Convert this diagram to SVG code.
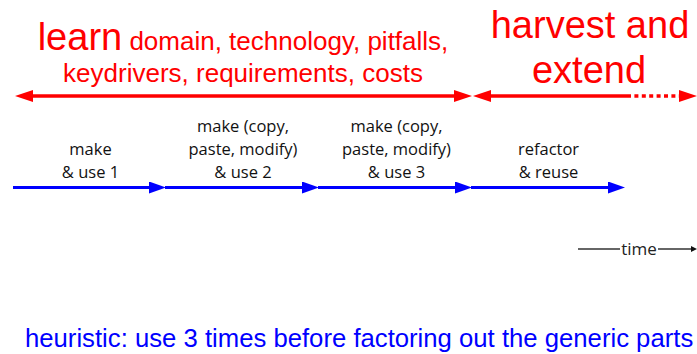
<svg xmlns="http://www.w3.org/2000/svg" width="697" height="354" viewBox="0 0 697 354">
<style>
.red{font-family:"Liberation Sans",Arial,sans-serif;fill:#ff0000}
.lbl{font-family:"Open Sans","Liberation Sans",sans-serif;font-size:16.5px;fill:#111;text-anchor:middle}
.rl{stroke:#ff0000;stroke-width:3.5;fill:none}
.bl{stroke:#0000ff;stroke-width:3;fill:none}
.tl{stroke:#333;stroke-width:1.3;fill:none}
</style>
<defs>
<marker id="ra" viewBox="0 0 18 12" refX="0" refY="6" markerWidth="18" markerHeight="12" markerUnits="userSpaceOnUse" orient="auto-start-reverse"><path d="M0,0 L18,6 L0,12 Z" fill="#ff0000"/></marker>
<marker id="ba" viewBox="0 0 17 12" refX="0" refY="6" markerWidth="17" markerHeight="12" markerUnits="userSpaceOnUse" orient="auto"><path d="M0,0 L17,6 L0,12 Z" fill="#0000ff"/></marker>
<marker id="ta" viewBox="0 0 6 6" refX="0" refY="3" markerWidth="6" markerHeight="6" markerUnits="userSpaceOnUse" orient="auto"><path d="M0,0 L6,3 L0,6 Z" fill="#111"/></marker>
</defs>
<g id="learn">
<text class="red" x="243" y="50" text-anchor="middle"><tspan font-size="38">learn</tspan><tspan font-size="26"> domain, technology, pitfalls,</tspan></text>
<text class="red" x="243" y="82" font-size="26" text-anchor="middle">keydrivers, requirements, costs</text>
</g>
<g id="harvest">
<text class="red" x="590" y="38" font-size="38" text-anchor="middle">harvest and</text>
<text class="red" x="589" y="83" font-size="38" text-anchor="middle">extend</text>
</g>
<g id="step1"><text class="lbl" x="90.5" y="155">make</text><text class="lbl" x="90.5" y="178">&amp; use 1</text></g>
<g id="step2"><text class="lbl" x="243" y="132">make (copy,</text><text class="lbl" x="243" y="155">paste, modify)</text><text class="lbl" x="243" y="178">&amp; use 2</text></g>
<g id="step3"><text class="lbl" x="396.5" y="132">make (copy,</text><text class="lbl" x="396.5" y="155">paste, modify)</text><text class="lbl" x="396.5" y="178">&amp; use 3</text></g>
<g id="step4"><text class="lbl" x="548.5" y="155">refactor</text><text class="lbl" x="548.5" y="178">&amp; reuse</text></g>
<g id="connectors">
<line class="rl" x1="33" y1="96" x2="454" y2="96" marker-start="url(#ra)" marker-end="url(#ra)"/>
<line class="rl" x1="491" y1="96" x2="627" y2="96" marker-start="url(#ra)"/>
<line class="rl" x1="627" y1="96" x2="679" y2="96" stroke-dasharray="4 3.4" marker-end="url(#ra)"/>
<line class="bl" x1="13" y1="187.5" x2="149" y2="187.5" marker-end="url(#ba)"/>
<line class="bl" x1="165" y1="187.5" x2="302" y2="187.5" marker-end="url(#ba)"/>
<line class="bl" x1="318" y1="187.5" x2="455" y2="187.5" marker-end="url(#ba)"/>
<line class="bl" x1="471" y1="187.5" x2="608" y2="187.5" marker-end="url(#ba)"/>
</g>
<g id="time">
<line class="tl" x1="578" y1="249" x2="620" y2="249"/>
<text x="639" y="254.5" font-family="'Open Sans','Liberation Sans',sans-serif" font-size="17" fill="#222" text-anchor="middle">time</text>
<line class="tl" x1="658" y1="249" x2="691" y2="249" marker-end="url(#ta)"/>
</g>
<g id="heuristic">
<text x="25" y="347" font-family="'Liberation Sans',Arial,sans-serif" font-size="25.7" fill="#0000ff">heuristic: use 3 times before factoring out the generic parts</text>
</g>
</svg>
